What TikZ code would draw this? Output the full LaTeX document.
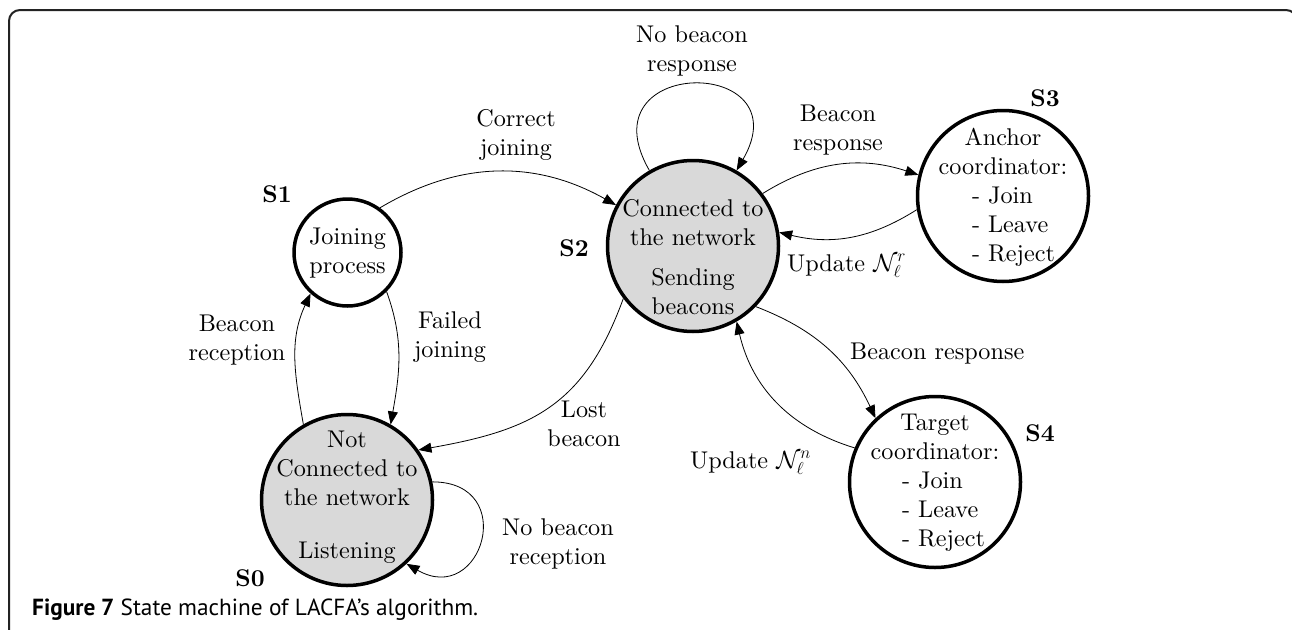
\documentclass[tikz,border=0pt]{standalone}
\usepackage{fontspec}
\usepackage{graphicx}
\setmainfont{lmroman10-regular}[Extension=.otf,BoldFont=lmroman10-bold,ItalicFont=lmroman10-italic]
\newfontfamily\capfont{PT Sans}
\usetikzlibrary{arrows.meta}
\definecolor{stategrey}{RGB}{217,217,217}
\definecolor{framecol}{RGB}{35,35,35}
\newcommand{\listitemx}[1]{\makebox[83pt][l]{#1}}
\begin{document}
\begin{tikzpicture}[x=1pt,y=1pt,
  every node/.append style={font=\fontsize{24.2}{29}\selectfont},
  state/.style={circle,draw=black,line width=3.5pt,minimum size=171pt,inner sep=0pt},
  smallstate/.style={state,minimum size=107pt},
  txt/.style={align=center,inner sep=0pt},
  slabel/.style={font=\fontsize{24.2}{29}\selectfont\bfseries,inner sep=0pt},
  edge/.style={line width=0.8pt,-{Triangle[length=13pt,width=10pt]}},
]
\useasboundingbox (0,0) rectangle (1292,-629);
\draw[line width=2pt,color=framecol,rounded corners=11pt] (9,-660) -- (9,-10) -- (1297,-10) -- (1297,-660);

% states
\node[state,fill=stategrey] (s0) at (347,-500) {};
\node[smallstate] (s1) at (347.5,-252.5) {};
\node[state,fill=stategrey] (s2) at (693,-246) {};
\node[state] (s3) at (1003,-196) {};
\node[state] (s4) at (935,-482) {};

% state texts
\node[txt] (t0) at (347,-497) {Not\\Connected to\\the network\\[24pt]Listening};
\node[txt] (t1) at (347.5,-253.5) {Joining\\process};
\node[txt] (t2) at (693,-257.5) {Connected to\\the network\\[11pt]Sending\\beacons};
\node[txt] (t3) at (1003,-197) {Anchor\\coordinator:\\\hspace*{21pt}\listitemx{- Join}\\\hspace*{21pt}\listitemx{- Leave}\\\hspace*{21pt}\listitemx{- Reject}};
\node[txt] (t4) at (935,-483) {Target\\coordinator:\\\hspace*{17pt}\listitemx{- Join}\\\hspace*{17pt}\listitemx{- Leave}\\\hspace*{17pt}\listitemx{- Reject}};

% state labels
\node[slabel] (l0) at (250,-578) {S0};
\node[slabel] (l1) at (277,-194) {S1};
\node[slabel] (l2) at (574,-248) {S2};
\node[slabel] (l3) at (1045,-98) {S3};
\node[slabel] (l4) at (1040,-433) {S4};

% edges
\draw[edge] (s1.54) to[bend left=30] (s2.152);
\draw[edge] (s2.120) to[out=120,in=60,looseness=3.9] (s2.60);
\draw[edge] (s2.37) to[bend left=25] (s3.166);
\draw[edge] (s3.189) to[bend left=23] (s2.9);
\draw[edge] (s2.-44) to[bend left=22] (s4.133);
\draw[edge] (s4.157) to[bend left=30] (s2.-60);
\draw[edge] (s2.217) to[out=250,in=10,looseness=1.15] (s0.35);
\draw[edge] (s1.-45) to[out=-70,in=80] (s0.60);
\draw[edge] (s0.120) to[out=100,in=245] (s1.228);
\draw[edge] (s0.12) to[out=0,in=-30,looseness=2.6] (s0.-47);

% edge labels
\node[txt] (ecj) at (516,-135) {Correct\\joining};
\node[txt] (enbr) at (692,-50.5) {No beacon\\response};
\node[txt] (ebr3) at (838,-130.5) {Beacon\\response};
\node[inner sep=0pt,anchor=base west] (eup3) at (787,-271) {Update $\mathcal{N}_{\ell}^{r}$};
\node[inner sep=0pt,anchor=base west] (ebr4) at (850,-359) {Beacon response};
\node[inner sep=0pt,anchor=base west] (eup4) at (690,-468) {Update $\mathcal{N}_{\ell}^{n}$};
\node[txt] (elb) at (584,-424) {Lost\\beacon};
\node[txt] (efj) at (450,-337) {Failed\\joining};
\node[txt] (ebrc) at (237,-340) {Beacon\\reception};
\node[txt] (enbrc) at (558,-544) {No beacon\\reception};

% caption
\node[anchor=west,inner sep=0pt] (cap) at (32,-610) {\resizebox{446pt}{!}{\capfont\fontsize{20}{24}\selectfont\textbf{Figure 7} State machine of LACFA’s algorithm.}};
\end{tikzpicture}
\end{document}
